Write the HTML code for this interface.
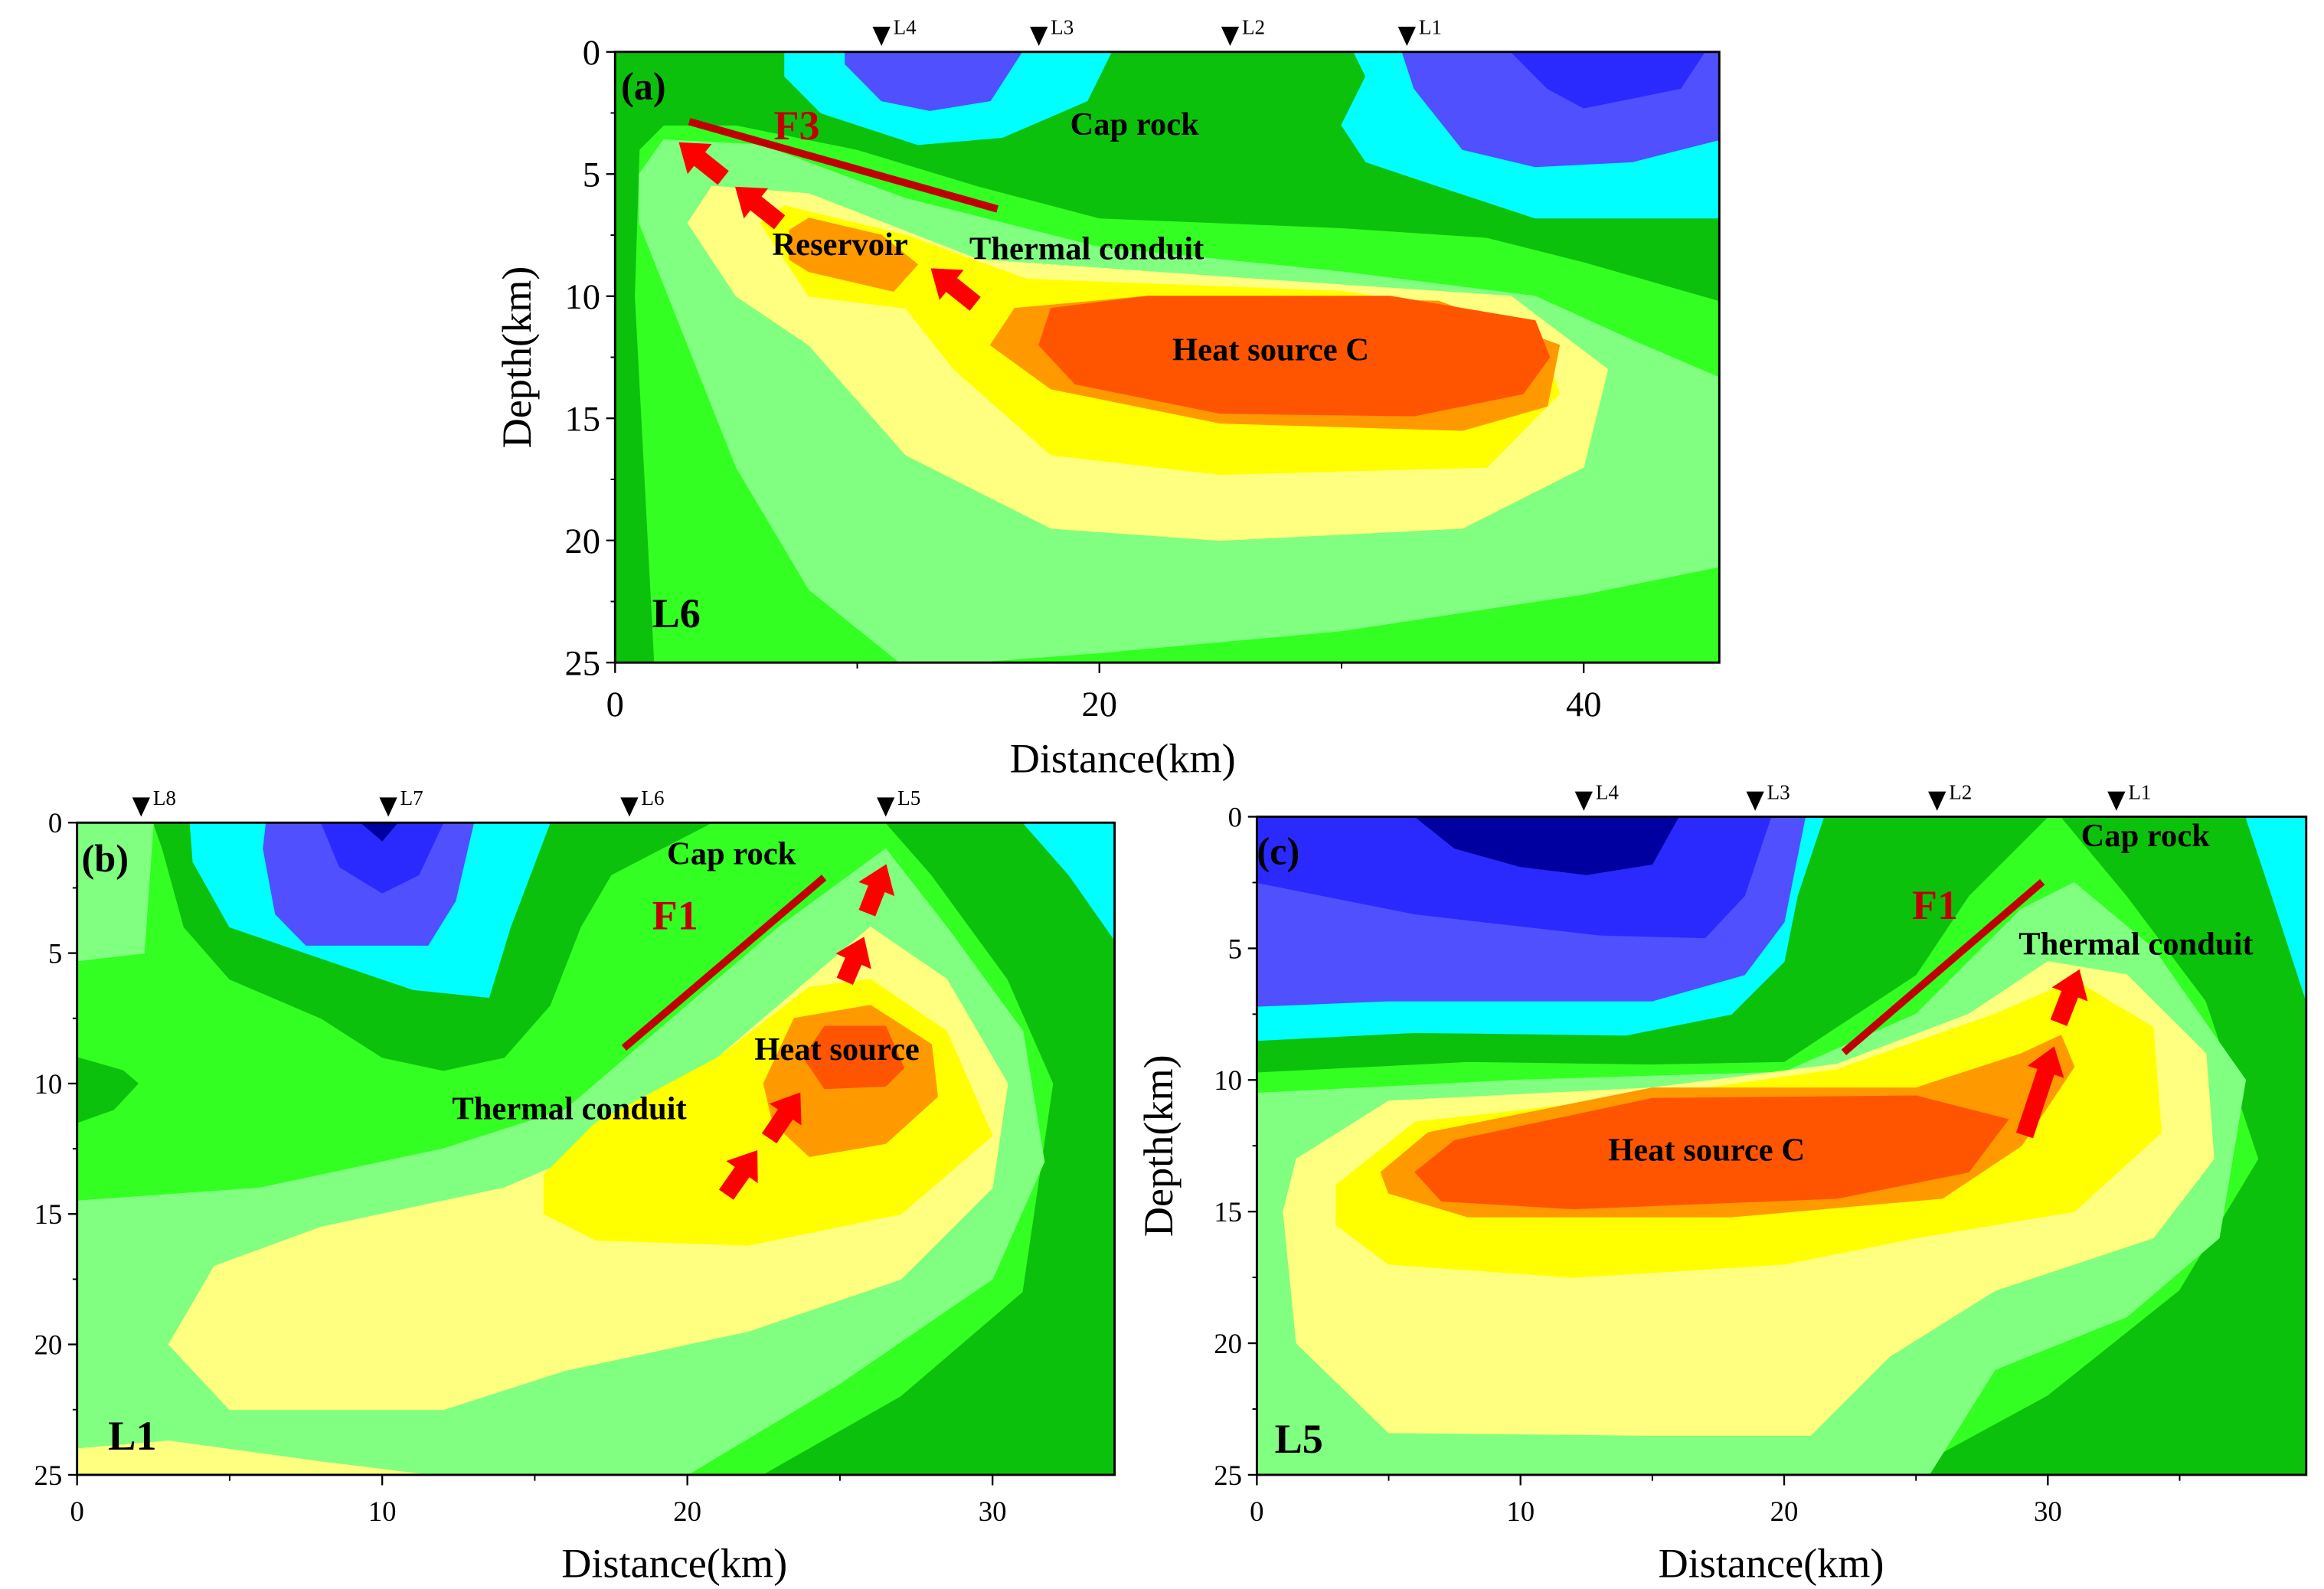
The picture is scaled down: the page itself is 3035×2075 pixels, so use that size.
<!DOCTYPE html>
<html><head><meta charset="utf-8">
<style>
html,body{margin:0;padding:0;background:#fff;}
svg{display:block;}
text{font-family:"Liberation Serif",serif;}
</style></head>
<body>
<svg id="fig" width="3035" height="2075" viewBox="0 0 1568 1072" xmlns="http://www.w3.org/2000/svg"></svg>
<script>
// ---- colour classes ----
const C={dg:'#0cc10c',bg:'#33ff22',lg:'#80ff80',ly:'#ffff80',y:'#ffff00',o:'#ff9900',r:'#ff5500',cy:'#00ffff',bl:'#5050ff',db:'#2a2aff',nv:'#0000a0'};
// ---- panel (a) L6 contour polygons, (distance km, depth km) ----
const aDarkGreen=[[0,0],[45.6,0],[46,10.3],[40,8.6],[36,7.6],[30,7.2],[20,6.8],[15,5.5],[10,4],[5,3],[2,3],[1,4],[0.8,10],[1.6,25],[0,25]];
const aLightGreen=[[1,5],[2,3.6],[6,3.8],[12,6],[20,8],[30,9],[38,10],[42,11.8],[46,13.5],[46,21],[40,22.2],[30,23.7],[20,24.6],[12,25.2],[8,22],[5,17],[3,12],[1,7]];
const aLightYellow=[[3,7],[4,5.5],[8,5.8],[15,8.5],[25,9.2],[37,10],[41,13],[40,17],[35,19.5],[25,20],[18,19.5],[12,16.5],[8,12],[5,10]];
const aYellow=[[6,7],[7,6.3],[12,7.5],[17,9.3],[30,9.8],[38,11],[39,14],[36,17],[25,17.3],[18,16.5],[14,13],[12,10.5],[8,10]];
const aOrange=[[15.5,12],[16.5,10.5],[22,10],[34,10.2],[39,12],[38.5,14.5],[35,15.5],[25,15.2],[18,13.8]];
const aReservoir=[[7.2,7.3],[8,6.8],[11,7.5],[12.5,8.7],[11.5,9.8],[8,9],[7.2,8.5]];
const aRed=[[17.5,12],[18,10.5],[22,10],[32,10],[38,11],[38.6,12.5],[37.5,14],[33,14.9],[25,14.8],[19,13.6]];
const aCyanL=[[7,0],[20.5,0],[19.5,2],[16,3.5],[12.5,3.8],[8.5,2.5],[7,1]];
const aBlueL=[[9.5,0],[16.8,0],[15.5,2],[13,2.4],[11,2],[9.5,0.5]];
const aCyanR=[[30.5,0],[45.6,0],[45.6,6.8],[38,6.8],[34,5.5],[31,4.5],[30,3],[31,1]];
const aBlueR=[[32.5,0],[45.6,0],[45.6,3.6],[42,4.5],[38,4.7],[35,4],[33,1.5]];
const aDarkBlueR=[[37,0],[45,0],[44,1.5],[40,2.3],[38.5,1.5]];
// ---- panel (b) L1 ----
const bDarkGreen=[[2.5,0],[20.8,0],[17.5,2],[16.5,4],[15.5,7],[14,9],[12,9.5],[10,9],[8,7.5],[5,6],[3.5,4],[2.8,1]];
const bDarkGreenR=[[26.5,0],[34,0],[34,25],[22.5,25],[27,22],[31,18],[32,10],[30.5,6],[28,2]];
const bDarkGreenBlob=[[0,9],[1.5,9.5],[2,10],[1.2,11],[0,11.5]];
const bLightGreenStrip=[[0,0],[2.5,0],[2.2,5],[0,5.3]];
const bLightGreen=[[0,14.5],[6,14],[12,12.5],[16,11],[19,8],[23,4],[26.5,1],[28.5,4],[31,8],[31.7,13],[30,17.5],[25,21.5],[20,25],[0,25]];
const bLightYellow=[[3,20],[4.5,17],[8,15.5],[14,14],[18,12],[22,8],[26,4],[28.5,6],[30.5,10],[30,14],[27,17.5],[22,19.5],[16,21],[12,22.5],[5,22.5]];
const bLightYellowB=[[0,24],[3,23.7],[8,24.5],[11.5,25],[0,25]];
const bYellow=[[15.3,13.5],[17,11.5],[21,9],[24,6.3],[26,6],[28.5,8],[30,12],[27,15],[22,16.2],[17,16],[15.3,15]];
const bOrange=[[22.5,10],[23.5,7.5],[26,7],[28,8.5],[28.2,10.5],[26.5,12.3],[24,12.8],[22.8,11.5]];
const bRed=[[23.8,9],[24.5,7.8],[26.5,7.8],[27.1,9.4],[26.5,10.1],[24.5,10.2]];
const bCyan=[[3.7,0],[15.5,0],[14.2,4],[13.5,6.7],[11,6.4],[7.5,5],[5,4],[3.8,1.5]];
const bBlue=[[6.2,0],[13,0],[12.4,3],[11.5,4.7],[7.5,4.7],[6.5,3.5],[6.1,1]];
const bDarkBlue=[[8,0],[12,0],[11.2,2],[10,2.7],[8.6,1.7]];
const bNavy=[[9.3,0],[10.5,0],[10,0.7]];
const bCyanR=[[31,0],[34,0],[34,4.5],[32.5,2]];
// ---- panel (c) L5 ----
const cDarkGreen=[[0,0],[30,0],[27,3],[25,6],[20,9.3],[15,9.4],[8,9.3],[0,9.7]];
const cDarkGreenR=[[30.5,0],[37.5,0],[39.8,2],[39.8,25],[24.5,25],[30,22],[35,18],[38,13],[36,7],[33,3]];
const cLightGreen=[[0,10.5],[10,10],[20,9.7],[25,7.5],[29,3.5],[31,2.5],[34,5],[37.5,10],[36.5,16],[33,19],[28,21],[25.5,25],[0,25]];
const cLightYellow=[[1.5,13],[5,10.8],[15,10.3],[22,9.4],[27,7.5],[30,5.5],[33,6],[36,9],[36.3,13],[34,16],[28,18],[24,20.5],[21,23.5],[15,23.5],[5,23.4],[1.5,20],[1,15]];
const cYellow=[[3,14],[6,11.6],[15,10.6],[22,9.6],[28,7.5],[31,6.2],[34,8],[34.3,12],[31,15],[25,16],[20,17],[12,17.5],[5,17],[3,15.5]];
const cOrange=[[4.7,13.5],[6.5,12],[15,10.3],[25,10.3],[29,9],[30.5,8.3],[31,9.5],[29,12.5],[26,14.5],[18,15.2],[8,15.2],[5,14.3]];
const cRed=[[6,13.5],[7.5,12.3],[15,10.7],[25,10.6],[28.5,11.5],[27,13.5],[22,14.5],[12,14.9],[7,14.6]];
const cCyan=[[0,0],[21.5,0],[20.5,3],[20,5.5],[18,7.5],[14,8.3],[6,8.2],[0,8.5]];
const cBlue=[[0,0],[20.8,0],[20,4],[18.5,6],[15,7],[5,7],[0,7.2]];
const cDarkBlue=[[0,0],[19.5,0],[18.5,3],[17,4.6],[13,4.5],[6,3.7],[0,2.5]];
const cNavy=[[6,0],[16,0],[15,1.8],[12.5,2.2],[10,1.9],[7.5,1.2]];
const cCyanR=[[37.5,0],[39.8,0],[39.8,7],[38.5,3]];
// ---- axis ticks & stations ----
const depthTicks=[0,5,10,15,20,25];
const aXTicks=[0,20,40], bXTicks=[0,10,20,30], cXTicks=[0,10,20,30];
const aStations=['L4','L3','L2','L1'], aStationKm=[11,17.5,25.4,32.7];
const bStations=['L8','L7','L6','L5'], bStationKm=[2.1,10.2,18.1,26.5];
const cStations=['L4','L3','L2','L1'], cStationKm=[12.4,18.9,25.8,32.6];

const NS='http://www.w3.org/2000/svg';
const svg=document.getElementById('fig');
function el(tag,attrs,parent){const e=document.createElementNS(NS,tag);for(const k in attrs)e.setAttribute(k,attrs[k]);(parent||svg).appendChild(e);return e;}

function panel(id,P,layers,xTicks,stations,stationKm,minorX,depthLabel){
  const xs=km=>P.x0+(km/P.xmax)*(P.x1-P.x0);
  const ys=d=>P.y0+(d/25)*(P.y1-P.y0);
  const g=el('g',{});
  
  
  const cp=el('clipPath',{id:'clip'+id},g);
  el('rect',{x:P.x0,y:P.y0,width:P.x1-P.x0,height:P.y1-P.y0},cp);
  const pl=el('g',{'clip-path':'url(#clip'+id+')'},g);
  const bgR=el('rect',{x:P.x0,y:P.y0,width:P.x1-P.x0,height:P.y1-P.y0,fill:C.bg},pl);
  
  
  layers.forEach(([pts,col,nm])=>{
    const p=el('polygon',{points:pts.map(q=>xs(q[0]).toFixed(1)+','+ys(q[1]).toFixed(1)).join(' '),fill:C[col],'stroke':C[col],'stroke-width':0.5,'stroke-linejoin':'round'},pl);
    
    
  });
  const fr=el('rect',{x:P.x0,y:P.y0,width:P.x1-P.x0,height:P.y1-P.y0,fill:'none',stroke:'#000','stroke-width':1.5},g);
  
  
  depthTicks.forEach(d=>{
    el('line',{x1:P.x0-6,x2:P.x0,y1:ys(d),y2:ys(d),stroke:'#000','stroke-width':1.2},g);
    const t=el('text',{x:P.x0-10,y:ys(d)+P.fs*0.35,'font-size':P.fs,'text-anchor':'end'},g);
    t.textContent=d;
    
    
  });
  for(let d=2.5;d<25;d+=5){el('line',{x1:P.x0-3,x2:P.x0,y1:ys(d),y2:ys(d),stroke:'#000','stroke-width':1},g);}
  xTicks.forEach(v=>{
    el('line',{x1:xs(v),x2:xs(v),y1:P.y1,y2:P.y1+7,stroke:'#000','stroke-width':1.2},g);
    const t=el('text',{x:xs(v),y:P.y1+P.fs+12,'font-size':P.fs,'text-anchor':'middle'},g);
    t.textContent=v;
    
    
  });
  minorX.forEach(v=>{el('line',{x1:xs(v),x2:xs(v),y1:P.y1,y2:P.y1+4,stroke:'#000','stroke-width':1},g);});
  const xt=el('text',{x:(P.x0+P.x1)/2+P.xtDx,y:P.y1+P.fs+50,'font-size':28,'text-anchor':'middle'},g);
  xt.textContent='Distance(km)';
  
  
  if(depthLabel){
    const yt=el('text',{x:0,y:0,'font-size':28,'text-anchor':'middle',transform:`translate(${P.x0-57},${(P.y0+P.y1)/2}) rotate(-90)`},g);
    yt.textContent='Depth(km)';
    
    
  }
  stations.forEach((s,i)=>{
    const x=xs(stationKm[i]), y=P.y0-4;
    const tri=el('polygon',{points:`${x-6},${y-13} ${x+6},${y-13} ${x},${y}`,fill:'#000'},g);
    
    
    const t=el('text',{x:x+8,y:y-8,'font-size':14},g);
    t.textContent=s;
    
    
  });
  return g;
}
function label(txt,x,y,size,color,name){
  const t=el('text',{x:x,y:y,'font-size':size,'font-weight':'bold',fill:color||'#000'});
  t.textContent=txt;
  
  
}
function fault(x1,y1,x2,y2,name){
  const l=el('line',{x1,y1,x2,y2,stroke:'#c00000','stroke-width':5});
  
  
}
function arrow(x1,y1,x2,y2){
  const dx=x2-x1,dy=y2-y1,L=Math.hypot(dx,dy),ux=dx/L,uy=dy/L,nx=-uy,ny=ux;
  const hw=13,sw=6,hl=18;
  const bx=x2-ux*hl,by=y2-uy*hl;
  const pts=[[x1+nx*sw,y1+ny*sw],[bx+nx*sw,by+ny*sw],[bx+nx*hw,by+ny*hw],[x2,y2],[bx-nx*hw,by-ny*hw],[bx-nx*sw,by-ny*sw],[x1-nx*sw,y1-ny*sw]];
  const p=el('polygon',{points:pts.map(q=>q[0].toFixed(1)+','+q[1].toFixed(1)).join(' '),fill:'#ff0000'});
  
  
}

panel('a',{x0:415,x1:1160,y0:35,y1:447,xmax:45.6,fs:24,xtDx:-30},
 [[aDarkGreen,'dg','cap-rock-zone'],[aLightGreen,'lg','contour-light-green'],[aLightYellow,'ly','contour-light-yellow'],[aYellow,'y','contour-yellow'],[aOrange,'o','contour-orange'],[aReservoir,'o','reservoir-zone'],[aRed,'r','heat-source-c'],[aCyanL,'cy','contour-cyan'],[aBlueL,'bl','contour-blue'],[aCyanR,'cy','contour-cyan'],[aBlueR,'bl','contour-blue'],[aDarkBlueR,'db','contour-dark-blue']],
 aXTicks,aStations,aStationKm,[10,30],true);
panel('b',{x0:52,x1:752,y0:555,y1:995,xmax:34,fs:19,xtDx:53},
 [[bDarkGreen,'dg','cap-rock-zone'],[bDarkGreenR,'dg','contour-dark-green'],[bDarkGreenBlob,'dg','contour-dark-green'],[bLightGreenStrip,'lg','contour-light-green'],[bLightGreen,'lg','contour-light-green'],[bLightYellow,'ly','contour-light-yellow'],[bLightYellowB,'ly','contour-light-yellow'],[bYellow,'y','contour-yellow'],[bOrange,'o','contour-orange'],[bRed,'r','heat-source'],[bCyan,'cy','contour-cyan'],[bBlue,'bl','contour-blue'],[bDarkBlue,'db','contour-dark-blue'],[bNavy,'nv','contour-navy'],[bCyanR,'cy','contour-cyan']],
 bXTicks,bStations,bStationKm,[5,15,25],false);
panel('c',{x0:848,x1:1556,y0:551,y1:995,xmax:39.8,fs:19,xtDx:-7},
 [[cDarkGreen,'dg','cap-rock-zone'],[cDarkGreenR,'dg','contour-dark-green'],[cLightGreen,'lg','contour-light-green'],[cLightYellow,'ly','contour-light-yellow'],[cYellow,'y','contour-yellow'],[cOrange,'o','contour-orange'],[cRed,'r','heat-source-c'],[cCyan,'cy','contour-cyan'],[cBlue,'bl','contour-blue'],[cDarkBlue,'db','contour-dark-blue'],[cNavy,'nv','contour-navy'],[cCyanR,'cy','contour-cyan']],
 cXTicks,cStations,cStationKm,[5,15,25,35],true);

fault(465,82,673,141,'fault-f3');
arrow(488,120,458,96);arrow(526,150,496,126);arrow(658,205,628,181);
label('(a)',419,67,26,'#000','panel-label-a');
label('F3',522,94,28,'#c00000','fault-label-f3');
label('Cap rock',722,91,22,'#000','cap-rock-label');
label('Reservoir',521,172,22,'#000','reservoir-label');
label('Thermal conduit',654,175,22,'#000','thermal-conduit-label');
label('Heat source C',791,243,22,'#000','heat-source-label');
label('L6',440,423,28,'#000','profile-label-l6');
fault(421,707,556,592,'fault-f1');
arrow(490,806,511,776);arrow(519,768,540,737);arrow(570,662,583,632);arrow(585,616,598,583);
label('(b)',55,588,26,'#000','panel-label-b');
label('F1',440,627,28,'#c00000','fault-label-f1');
label('Cap rock',450,583,22,'#000','cap-rock-label');
label('Heat source',509,715,22,'#000','heat-source-label');
label('Thermal conduit',305,755,22,'#000','thermal-conduit-label');
label('L1',73,978,28,'#000','profile-label-l1');
fault(1244,710,1378,595,'fault-f1');
arrow(1366,766,1386,706);arrow(1389,690,1403,654);
label('(c)',848,583,26,'#000','panel-label-c');
label('F1',1290,620,28,'#c00000','fault-label-f1');
label('Cap rock',1404,571,22,'#000','cap-rock-label');
label('Thermal conduit',1362,644,22,'#000','thermal-conduit-label');
label('Heat source C',1085,783,22,'#000','heat-source-label');
label('L5',860,980,28,'#000','profile-label-l5');
</script>
</body></html>
